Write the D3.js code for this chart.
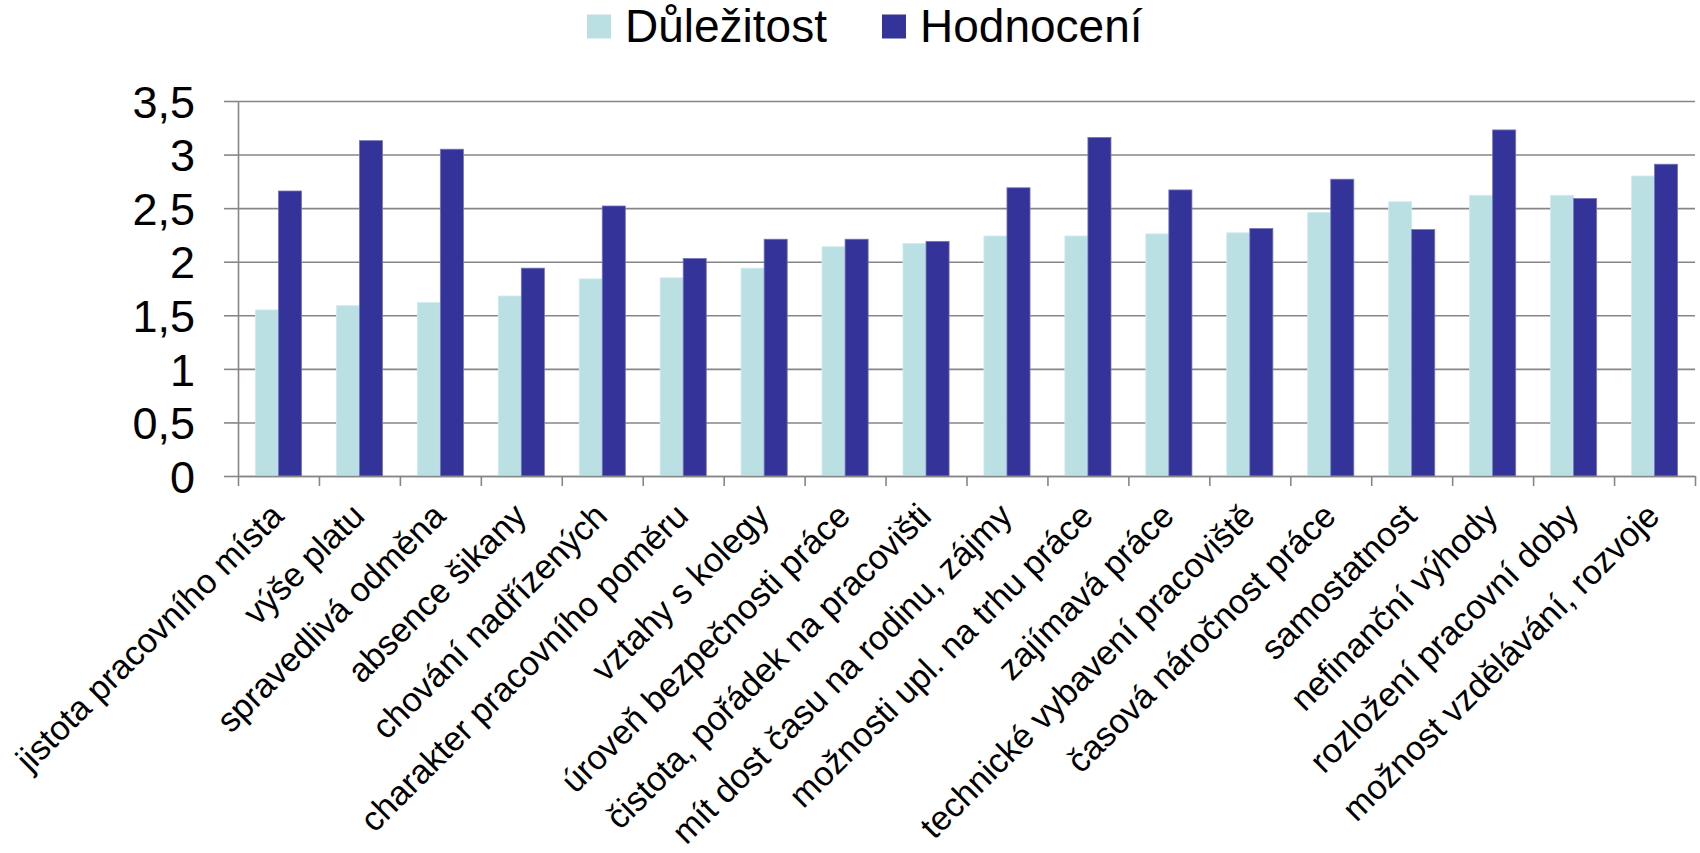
<!DOCTYPE html>
<html>
<head>
<meta charset="utf-8">
<script src="https://cdn.jsdelivr.net/npm/d3@7"></script>
<style>
  html, body { margin: 0; padding: 0; background: #ffffff; }
  svg { display: block; font-family: "Liberation Sans", Arial, sans-serif; }
</style>
</head>
<body>
<svg id="chart" width="1700" height="853"></svg>
<script>
const categories = [
  "jistota pracovního místa",
  "výše platu",
  "spravedlivá odměna",
  "absence šikany",
  "chování nadřízených",
  "charakter pracovního poměru",
  "vztahy s kolegy",
  "úroveň bezpečnosti práce",
  "čistota, pořádek na pracovišti",
  "mít dost času na rodinu, zájmy",
  "možnosti upl. na trhu práce",
  "zajímavá práce",
  "technické vybavení pracoviště",
  "časová náročnost práce",
  "samostatnost",
  "nefinanční výhody",
  "rozložení pracovní doby",
  "možnost vzdělávání, rozvoje"
];
const seriesNames = ["Důležitost", "Hodnocení"];
const dulezitost = [1.55, 1.59, 1.62, 1.68, 1.84, 1.85, 1.94, 2.14, 2.17, 2.24, 2.24, 2.26, 2.27, 2.46, 2.56, 2.62, 2.62, 2.80];
const hodnoceni  = [2.66, 3.13, 3.05, 1.94, 2.52, 2.03, 2.21, 2.21, 2.19, 2.69, 3.16, 2.67, 2.31, 2.77, 2.30, 3.23, 2.59, 2.91];
const yTickValues = [0, 0.5, 1, 1.5, 2, 2.5, 3, 3.5];
const yTickLabels = ["0", "0,5", "1", "1,5", "2", "2,5", "3", "3,5"];
const colors = ["#BBE0E3", "#333399"];

(function () {
const svg = d3.select("#chart");
const pLeft = 238, pRight = 1695, pTop = 101, pBottom = 476;
const gridColor = "#868686";

const x = d3.scaleBand().domain(categories).range([pLeft, pRight]).padding(0);
const y = d3.scaleLinear().domain([0, 3.5]).range([pBottom, pTop]);
const bw = x.bandwidth() * 0.285;

// gridlines
const grid = svg.append("g").attr("transform", `translate(${pLeft},0)`)
  .call(d3.axisLeft(y).tickValues(yTickValues).tickSize(-(pRight - pLeft)).tickFormat(""));
grid.select(".domain").remove();
grid.selectAll("line").attr("stroke", gridColor).attr("stroke-width", 1.6);

// bars
const series = [dulezitost, hodnoceni];
series.forEach((vals, si) => {
  svg.append("g").selectAll("rect").data(vals).join("rect")
    .attr("x", (d, i) => x(categories[i]) + x.bandwidth() / 2 - bw + si * bw)
    .attr("y", d => y(d))
    .attr("width", bw)
    .attr("height", d => y(0) - y(d))
    .attr("fill", colors[si])
    .attr("stroke", si === 1 ? "#7676b8" : "#d2ecee")
    .attr("stroke-width", 0.8);
});

// y axis
const yAxis = svg.append("g").attr("transform", `translate(${pLeft},0)`)
  .call(d3.axisLeft(y).tickValues(yTickValues).tickSize(14).tickSizeOuter(0).tickPadding(29)
    .tickFormat((d, i) => yTickLabels[i]));
yAxis.select(".domain").attr("stroke", gridColor).attr("stroke-width", 1.6);
yAxis.selectAll("line").attr("stroke", gridColor).attr("stroke-width", 1.6);
yAxis.selectAll("text").attr("font-size", 45).attr("fill", "#000")
  .attr("font-family", "'Liberation Sans', Arial, sans-serif").attr("dy", "0.36em");

// x axis boundary ticks
const xb = d3.scaleLinear().domain([0, categories.length]).range([pLeft, pRight]);
const xTicks = svg.append("g").attr("transform", `translate(0,${pBottom})`)
  .call(d3.axisBottom(xb).tickValues(d3.range(categories.length + 1))
    .tickSize(10).tickSizeOuter(0).tickFormat(""));
xTicks.select(".domain").attr("stroke", gridColor).attr("stroke-width", 1.6);
xTicks.selectAll("line").attr("stroke", gridColor).attr("stroke-width", 1.6);

// x labels
const xAxis = svg.append("g").attr("transform", `translate(0,${pBottom})`)
  .call(d3.axisBottom(x).tickSize(0));
xAxis.select(".domain").remove();
xAxis.selectAll("text")
  .attr("font-size", 34.2).attr("fill", "#000")
  .attr("font-family", "'Liberation Sans', Arial, sans-serif")
  .attr("x", 0).attr("y", 0).attr("dy", 0)
  .attr("text-anchor", "end")
  .attr("transform", "translate(7,42) rotate(-45)");

// legend
const legend = svg.append("g");
const legendItems = [{ sq: 587, tx: 625 }, { sq: 882, tx: 920 }];
seriesNames.forEach((name, i) => {
  legend.append("rect").attr("x", legendItems[i].sq).attr("y", 14.5)
    .attr("width", 24).attr("height", 24).attr("fill", colors[i]);
  legend.append("text").attr("x", legendItems[i].tx).attr("y", 42)
    .attr("font-size", 46).attr("fill", "#000").text(name);
});
})();
</script>
</body>
</html>
